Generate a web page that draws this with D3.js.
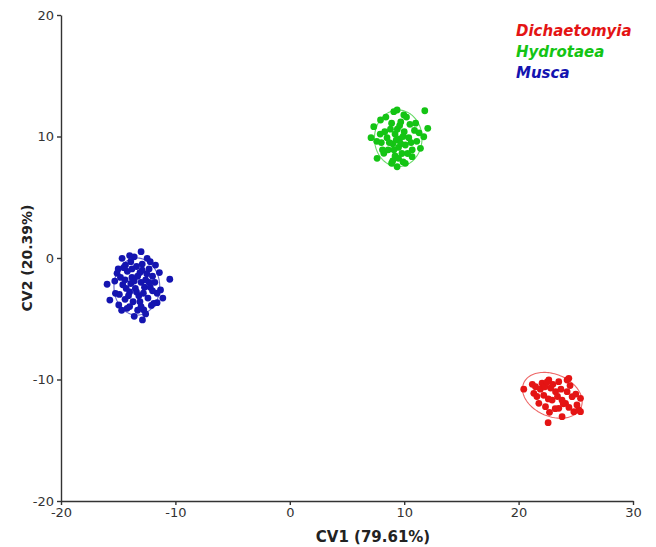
<!DOCTYPE html>
<html>
<head>
<meta charset="utf-8">
<script src="https://cdn.jsdelivr.net/npm/d3@7"></script>
<style>
  body { margin: 0; background: #fff; }
  svg text { font-family: "DejaVu Sans", sans-serif; }
  .axis path, .axis line { stroke: #333; stroke-width: 1.4; }
  .axis text { font-size: 13px; fill: #333; }
</style>
</head>
<body>
<div id="chart"></div>
<script>
const groups = ['Dichaetomyia', 'Hydrotaea', 'Musca'];
const groupColors = ['#e41414', '#14c414', '#1414b0'];
const xTicks = [-20, -10, 0, 10, 20, 30];
const yTicks = [-20, -10, 0, 10, 20];

// CV1, CV2 scores
const musca = [
  [-15.97,-2.16],[-10.49,-1.75],[-12.88,-5.10],[-13.0,0.52],[-15.73,-3.46],[-11.6,-3.68],
  [-14.66,-0.03],[-14.36,-0.58],[-12.47,-0.03],[-11.74,-0.58],[-11.3,-2.63],[-14.95,-3.87],
  [-14.22,-4.14],[-12.76,-4.28],[-11.89,-3.73],[-15.24,-2.91],[-15.1,-1.26],
  [-14.2,-1.1],[-13.8,-1.6],[-13.1,-1.2],[-12.6,-1.8],[-12.2,-2.4],[-13.5,-2.5],[-14.0,-2.8],
  [-14.6,-2.2],[-13.2,-3.1],[-12.8,-2.9],[-12.4,-3.3],[-13.7,-3.6],[-14.4,-3.4],[-13.0,-2.0],
  [-12.0,-1.5],[-14.8,-1.6],[-13.4,-0.7],[-12.9,-0.5],[-13.9,-0.3],[-12.3,-0.9],[-11.8,-2.0],
  [-11.6,-2.9],[-12.1,-3.9],[-13.3,-4.3],[-14.0,-4.0],[-14.9,-3.0],[-15.3,-1.9],[-14.5,-0.8],
  [-13.6,-1.9],[-12.7,-2.4],[-13.9,-2.1],[-13.3,-1.5],[-12.5,-1.3],[-14.3,-2.5],[-13.1,-3.6],
  [-12.6,-4.6],[-13.6,-4.8],[-11.4,-1.2],[-15.0,-0.9],[-14.1,-3.1],[-13.8,-0.9],[-12.9,-1.0],
  [-13.6,0.1],[-12.0,-2.7],[-14.7,-4.3],[-11.1,-3.3],[-13.4,-2.8],[-12.3,-2.0],[-14.4,-1.8],
  [-13.0,-4.0],[-12.2,-0.3],[-14.0,0.2]
];
const hydrotaea = [
  [11.8,12.12],[7.1,9.9],[12.06,10.67],[9.38,7.51],[10.1,7.79],[7.63,8.2],[9.09,12.04],
  [7.34,10.81],[11.42,9.03],[10.69,8.34],[11.71,9.98],[7.93,11.36],[9.97,11.77],[9.38,12.18],
  [8.22,8.62],[8.8,10.6],[9.2,10.2],[9.6,9.8],[10.0,10.4],[10.4,9.9],[9.0,9.4],[9.5,9.1],
  [10.1,9.3],[8.5,9.9],[8.3,10.4],[8.9,11.1],[9.7,11.2],[10.5,11.0],[10.9,10.5],[11.1,9.6],
  [10.7,8.9],[9.8,8.6],[9.2,8.4],[8.6,8.9],[8.0,9.5],[7.9,10.2],[9.4,10.6],[9.9,10.0],
  [9.3,9.7],[9.7,9.4],[10.3,8.6],[9.0,8.0],[8.4,11.6],[10.2,11.6],[11.0,11.1],[9.6,10.9],
  [8.7,9.5],[9.1,8.9],[10.6,9.5],[9.5,8.2],[8.1,8.9],[11.3,10.3],[7.6,9.6],[9.9,7.9],[8.9,7.8]
];
const dichaetomyia = [
  [22.58,-13.55],[20.45,-10.8],[25.41,-12.65],[24.39,-9.9],[25.41,-11.55],[24.83,-12.65],
  [23.8,-13.06],[21.33,-11.14],[21.77,-11.96],[22.35,-12.24],[22.93,-11.69],[22.05,-10.31],
  [22.64,-10.04],[23.51,-10.18],[24.24,-10.04],[21.48,-10.59],[23.23,-11.0],[24.24,-11.0],
  [24.68,-11.41],[25.26,-12.51],[23.51,-12.37],[24.1,-11.96],[25.1,-12.1],
  [21.9,-10.8],[22.3,-10.6],[22.8,-10.7],[23.0,-10.4],[21.6,-11.4],[22.2,-11.3],[22.6,-11.6],
  [23.4,-11.4],[23.7,-10.8],[24.5,-10.5],[23.9,-12.0],[23.2,-12.4],[22.7,-12.7],[24.4,-12.3],
  [21.2,-10.4],[22.5,-10.2],[23.8,-11.7],[25.0,-11.2]
];
// ellipse per group: centre x, centre y, semi-axis a, semi-axis b, angle (deg)
const ellipses = [
  [22.95, -11.3, 2.7, 1.75, -20],
  [9.48, 9.85, 2.08, 2.33, 0],
  [-13.37, -2.35, 2.0, 2.35, 0]
];
const points = [dichaetomyia, hydrotaea, musca];

const width = 656, height = 547;
const margin = {top: 15, right: 23, bottom: 46, left: 61};

const svg = d3.select('#chart').append('svg')
  .attr('width', width)
  .attr('height', height);

const xScale = d3.scaleLinear().domain([-20, 30])
  .range([margin.left, width - margin.right]);
const yScale = d3.scaleLinear().domain([-20, 20])
  .range([height - margin.bottom, margin.top]);

svg.append('g')
  .attr('class', 'axis')
  .attr('transform', `translate(0, ${height - margin.bottom})`)
  .call(d3.axisBottom(xScale).tickValues(xTicks).tickFormat(d => String(d))
    .tickSize(4).tickSizeOuter(0).tickPadding(3));

svg.append('g')
  .attr('class', 'axis')
  .attr('transform', `translate(${margin.left}, 0)`)
  .call(d3.axisLeft(yScale).tickValues(yTicks).tickFormat(d => String(d))
    .tickSize(4).tickSizeOuter(0).tickPadding(3));

// axis titles
svg.append('text')
  .attr('x', 373).attr('y', 542)
  .attr('text-anchor', 'middle')
  .style('font-size', '15px').style('font-weight', 'bold').attr('fill', '#222')
  .text('CV1 (79.61%)');

svg.append('text')
  .attr('transform', `translate(32, ${(margin.top + height - margin.bottom) / 2}) rotate(-90)`)
  .attr('text-anchor', 'middle')
  .style('font-size', '14px').style('font-weight', 'bold').attr('fill', '#222')
  .text('CV2 (20.39%)');

// ellipses
const line = d3.line().x(d => xScale(d[0])).y(d => yScale(d[1]));
ellipses.forEach((e, i) => {
  const ang = e[4] * Math.PI / 180;
  const path = d3.range(0, 2 * Math.PI + 0.01, Math.PI / 60).map(t => {
    const u = e[2] * Math.cos(t), v = e[3] * Math.sin(t);
    return [e[0] + u * Math.cos(ang) - v * Math.sin(ang),
            e[1] + u * Math.sin(ang) + v * Math.cos(ang)];
  });
  svg.append('path')
    .attr('d', line(path))
    .attr('fill', 'none')
    .attr('stroke', groupColors[i])
    .attr('stroke-opacity', 0.65)
    .attr('stroke-width', 1.1);
});

// points
points.forEach((pts, i) => {
  svg.append('g').selectAll('circle')
    .data(pts)
    .enter().append('circle')
    .attr('cx', d => xScale(d[0]))
    .attr('cy', d => yScale(d[1]))
    .attr('r', 3.4)
    .attr('fill', groupColors[i]);
});

// legend
svg.append('g').selectAll('text')
  .data(groups)
  .enter().append('text')
  .attr('x', 516)
  .attr('y', (d, i) => 36 + i * 21)
  .style('font-size', '15px')
  .style('font-weight', 'bold')
  .style('font-style', 'italic')
  .attr('fill', (d, i) => groupColors[i])
  .text(d => d);
</script>
</body>
</html>
